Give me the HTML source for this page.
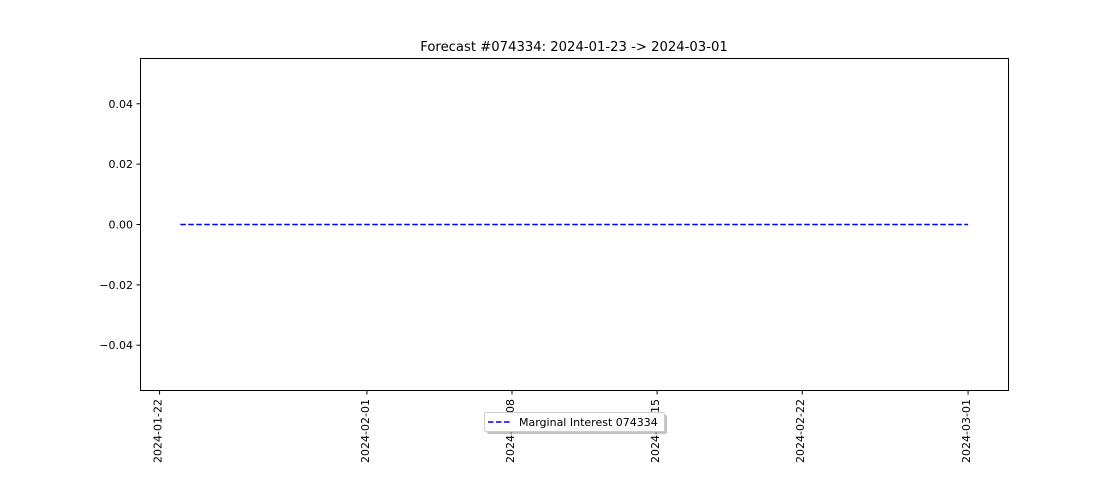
<!DOCTYPE html>
<html><head><meta charset="utf-8"><style>
body{margin:0;background:#fff;}
svg{display:block;font-family:"DejaVu Sans","Liberation Sans",sans-serif;}
</style></head><body>
<svg id="chart" width="1120" height="480">
<rect width="1120" height="480" fill="#fff"/>
<text x="574" y="51" font-size="13.2" text-anchor="middle">Forecast #074334: 2024-01-23 -&gt; 2024-03-01</text>
<g id="yaxis"></g>
<g id="xaxis"></g>
<g id="series"></g>
<rect x="140.5" y="58.5" width="868" height="332" fill="none" stroke="#000" stroke-width="1"/>
<g>
<rect x="487" y="415" width="180" height="19" rx="2" fill="#999" opacity="0.6"/>
<rect x="484.5" y="412.5" width="180" height="19" rx="2" fill="#fff" stroke="#ccc"/>
<line x1="488" y1="422" x2="512" y2="422" stroke="#0000ff" stroke-width="1.6" stroke-dasharray="5.5,2.5"/>
<text x="519" y="426" font-size="11">Marginal Interest 074334</text>
</g>
</svg>
<script>
const xTickLabels=["2024-01-22","2024-02-01","2024-02-08","2024-02-15","2024-02-22","2024-03-01"];
const yTickValues=[0.04,0.02,0.00,-0.02,-0.04];
const seriesDates=["2024-01-23","2024-03-01"];
const seriesValues=[0,0];
const NS="http://www.w3.org/2000/svg";
const base=Date.UTC(2024,0,22);
function days(s){const p=s.split("-");return (Date.UTC(+p[0],p[1]-1,+p[2])-base)/864e5;}
const xMin=-0.92,xMax=40.95,L=140.5,R=1008.5;
function xs(s){return L+(days(s)-xMin)/(xMax-xMin)*(R-L);}
const yMin=-0.055,yMax=0.055,T=58.5,B=390.5;
function ys(v){return B-(v-yMin)/(yMax-yMin)*(B-T);}
function mk(tag,attrs,parent){const e=document.createElementNS(NS,tag);for(const k in attrs)e.setAttribute(k,attrs[k]);parent.appendChild(e);return e;}
const ya=document.getElementById("yaxis"),xa=document.getElementById("xaxis"),sg=document.getElementById("series");
yTickValues.forEach(v=>{const y=ys(v);
 const t=mk("line",{x1:136.5,x2:140.5,y1:y,y2:y,stroke:"#000"},ya);
 
 
 const l=mk("text",{x:133,y:y+4,"font-size":"11","text-anchor":"end"},ya);
 l.textContent=(v<0?"\u2212":"")+Math.abs(v).toFixed(2);
 
 
});
xTickLabels.forEach(s=>{const x=xs(s);
 const t=mk("line",{x1:x,x2:x,y1:390.5,y2:394.5,stroke:"#000"},xa);
 
 
 const l=mk("text",{x:0,y:0,"font-size":"11","text-anchor":"end",transform:`translate(${x+2},399) rotate(-90)`},xa);
 l.textContent=s;
 
 
});
const pts=seriesDates.map((d,i)=>xs(d)+","+ys(seriesValues[i])).join(" ");
const pl=mk("polyline",{points:pts,fill:"none",stroke:"#0000ff","stroke-width":"1.5","stroke-dasharray":"5.5,2.5"},sg);


</script>
</body></html>
